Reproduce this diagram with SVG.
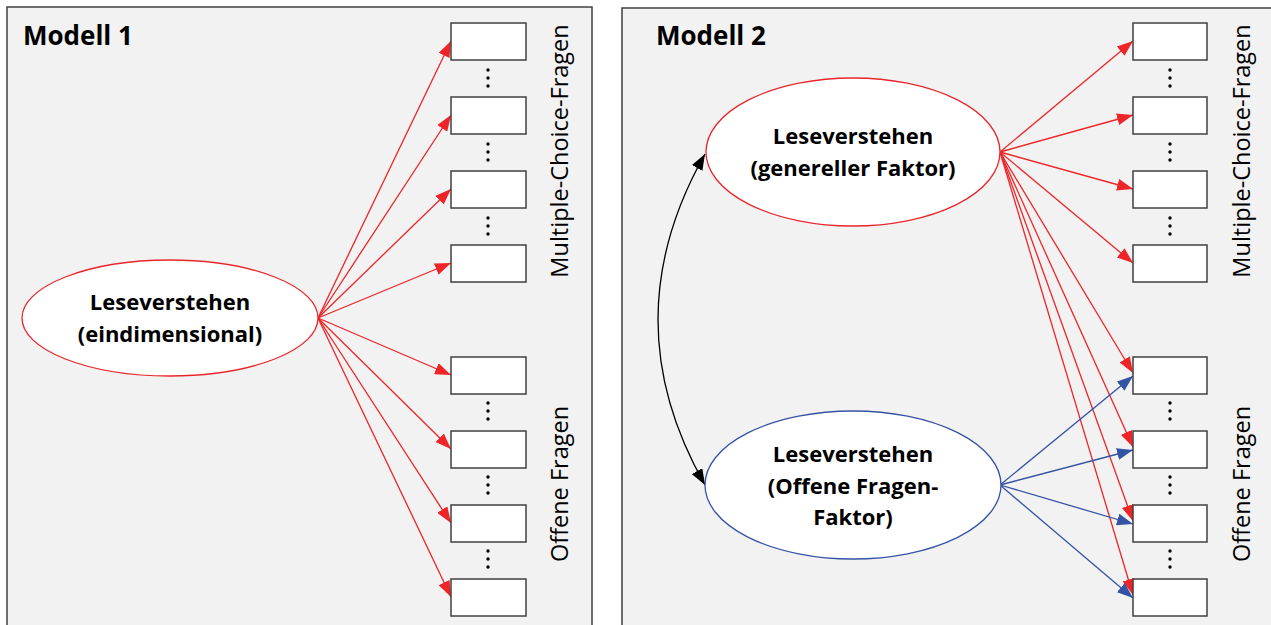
<svg xmlns="http://www.w3.org/2000/svg" width="1271" height="625" viewBox="0 0 1271 625">
<defs>
<style>
.panel{fill:#f2f2f2;stroke:#404040;stroke-width:1.5}
.box{fill:#ffffff;stroke:#404040;stroke-width:1.5}
.dot{fill:#000000}
.title{font-family:"Open Sans","Liberation Sans",sans-serif;font-weight:bold;font-size:26px;fill:#000}
.lbl{font-family:"Open Sans","Liberation Sans",sans-serif;font-weight:bold;font-size:22px;fill:#000;text-anchor:middle}
.side{font-family:"Open Sans","Liberation Sans",sans-serif;font-size:23.5px;fill:#000;text-anchor:middle}
.eR{fill:#ffffff;stroke:#e8262b;stroke-width:1.3}
.eB{fill:#ffffff;stroke:#3553a4;stroke-width:1.3}
.aR{fill:none;stroke:#ee2429;stroke-width:1.3;marker-end:url(#mR)}
.aB{fill:none;stroke:#3553a4;stroke-width:1.3;marker-end:url(#mB)}
.aK{fill:none;stroke:#000;stroke-width:1.3;marker-start:url(#mK);marker-end:url(#mK)}
</style>
<marker id="mR" markerUnits="userSpaceOnUse" markerWidth="16" markerHeight="12" refX="16" refY="6" orient="auto"><path d="M0,0 L16,6 L0,12 z" fill="#ee2429"/></marker>
<marker id="mB" markerUnits="userSpaceOnUse" markerWidth="16" markerHeight="12" refX="16" refY="6" orient="auto"><path d="M0,0 L16,6 L0,12 z" fill="#3553a4"/></marker>
<marker id="mK" markerUnits="userSpaceOnUse" markerWidth="16" markerHeight="12" refX="16" refY="6" orient="auto-start-reverse"><path d="M0,0 L16,6 L0,12 z" fill="#000"/></marker>
</defs>
<rect width="1271" height="625" fill="#ffffff"/>
<g id="panel1">
<rect class="panel" x="7" y="7" width="585" height="640"/>
<text class="title" x="23" y="45">Modell 1</text>
</g>
<g id="panel2">
<rect class="panel" x="622" y="8" width="680" height="640"/>
<text class="title" x="656" y="45">Modell 2</text>
</g>
<g id="connectors">
<path class="aR" d="M318,318 L451,41"/>
<path class="aR" d="M318,318 L451,115"/>
<path class="aR" d="M318,318 L451,189"/>
<path class="aR" d="M318,318 L451,263"/>
<path class="aR" d="M318,318 L451,375"/>
<path class="aR" d="M318,318 L451,449"/>
<path class="aR" d="M318,318 L451,523"/>
<path class="aR" d="M318,318 L451,597"/>
<path class="aR" d="M1000,152 L1133,41"/>
<path class="aR" d="M1000,152 L1133,115"/>
<path class="aR" d="M1000,152 L1133,189"/>
<path class="aR" d="M1000,152 L1133,263"/>
<path class="aR" d="M1000,152 L1133,373"/>
<path class="aR" d="M1000,152 L1133,447"/>
<path class="aR" d="M1000,152 L1133,521"/>
<path class="aR" d="M1000,152 L1133,595"/>
<path class="aB" d="M1000,485 L1133,376"/>
<path class="aB" d="M1000,485 L1133,450"/>
<path class="aB" d="M1000,485 L1133,524"/>
<path class="aB" d="M1000,485 L1133,598"/>
<path class="aK" d="M705,154 Q611,320 705,485"/>
</g>
<g id="node-m1-latent">
<ellipse class="eR" cx="170" cy="318" rx="148" ry="58"/>
<text class="lbl" x="170" y="310">Leseverstehen</text>
<text class="lbl" x="170" y="342">(eindimensional)</text>
</g>
<g id="node-m2-general">
<ellipse class="eR" cx="853" cy="152" rx="147" ry="74"/>
<text class="lbl" x="853" y="144">Leseverstehen</text>
<text class="lbl" x="853" y="176">(genereller Faktor)</text>
</g>
<g id="node-m2-open">
<ellipse class="eB" cx="853" cy="485" rx="148" ry="74"/>
<text class="lbl" x="853" y="462">Leseverstehen</text>
<text class="lbl" x="853" y="494">(Offene Fragen-</text>
<text class="lbl" x="853" y="525">Faktor)</text>
</g>
<g id="m1-items">
<rect class="box" x="451" y="23" width="75" height="37"/>
<rect class="box" x="451" y="97" width="75" height="37"/>
<rect class="box" x="451" y="171" width="75" height="37"/>
<rect class="box" x="451" y="245" width="75" height="37"/>
<rect class="box" x="451" y="357" width="75" height="37"/>
<rect class="box" x="451" y="431" width="75" height="37"/>
<rect class="box" x="451" y="505" width="75" height="37"/>
<rect class="box" x="451" y="579" width="75" height="37"/>
<g class="dot">
<circle cx="488" cy="70" r="1.7"/><circle cx="488" cy="78" r="1.7"/><circle cx="488" cy="86" r="1.7"/>
<circle cx="488" cy="144" r="1.7"/><circle cx="488" cy="152" r="1.7"/><circle cx="488" cy="160" r="1.7"/>
<circle cx="488" cy="218" r="1.7"/><circle cx="488" cy="226" r="1.7"/><circle cx="488" cy="234" r="1.7"/>
<circle cx="488" cy="403" r="1.7"/><circle cx="488" cy="411" r="1.7"/><circle cx="488" cy="419" r="1.7"/>
<circle cx="488" cy="477" r="1.7"/><circle cx="488" cy="485" r="1.7"/><circle cx="488" cy="493" r="1.7"/>
<circle cx="488" cy="551" r="1.7"/><circle cx="488" cy="559" r="1.7"/><circle cx="488" cy="567" r="1.7"/>
</g>
<text class="side" transform="translate(568,151) rotate(-90)">Multiple-Choice-Fragen</text>
<text class="side" transform="translate(568,484) rotate(-90)">Offene Fragen</text>
</g>
<g id="m2-items">
<rect class="box" x="1133" y="23" width="74" height="37"/>
<rect class="box" x="1133" y="97" width="74" height="37"/>
<rect class="box" x="1133" y="171" width="74" height="37"/>
<rect class="box" x="1133" y="245" width="74" height="37"/>
<rect class="box" x="1133" y="357" width="74" height="37"/>
<rect class="box" x="1133" y="431" width="74" height="37"/>
<rect class="box" x="1133" y="505" width="74" height="37"/>
<rect class="box" x="1133" y="579" width="74" height="37"/>
<g class="dot">
<circle cx="1170" cy="70" r="1.7"/><circle cx="1170" cy="78" r="1.7"/><circle cx="1170" cy="86" r="1.7"/>
<circle cx="1170" cy="144" r="1.7"/><circle cx="1170" cy="152" r="1.7"/><circle cx="1170" cy="160" r="1.7"/>
<circle cx="1170" cy="218" r="1.7"/><circle cx="1170" cy="226" r="1.7"/><circle cx="1170" cy="234" r="1.7"/>
<circle cx="1170" cy="403" r="1.7"/><circle cx="1170" cy="411" r="1.7"/><circle cx="1170" cy="419" r="1.7"/>
<circle cx="1170" cy="477" r="1.7"/><circle cx="1170" cy="485" r="1.7"/><circle cx="1170" cy="493" r="1.7"/>
<circle cx="1170" cy="551" r="1.7"/><circle cx="1170" cy="559" r="1.7"/><circle cx="1170" cy="567" r="1.7"/>
</g>
<text class="side" transform="translate(1250,151) rotate(-90)">Multiple-Choice-Fragen</text>
<text class="side" transform="translate(1250,484) rotate(-90)">Offene Fragen</text>
</g>
</svg>
